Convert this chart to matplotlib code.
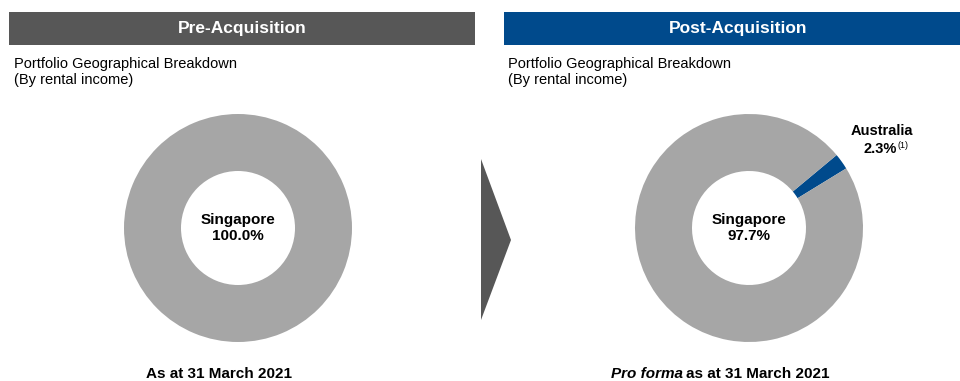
import matplotlib
matplotlib.use("Agg")
import matplotlib.pyplot as plt
from matplotlib.patches import Rectangle, Polygon

plt.rcParams['font.family'] = ['Liberation Sans', 'DejaVu Sans']

# data
headers = ["Pre-Acquisition", "Post-Acquisition"]
subtitle = "Portfolio Geographical Breakdown\n(By rental income)"
pre_labels = ["Singapore"]
pre_values = [100.0]
post_labels = ["Australia", "Singapore"]
post_values = [2.3, 97.7]

GREY = "#a6a6a6"
BLUE = "#004a8c"
DARK = "#575757"

W, H = 960, 381
fig = plt.figure(figsize=(W / 100, H / 100), dpi=100)
bg = fig.add_axes([0, 0, 1, 1])
bg.set_xlim(0, W)
bg.set_ylim(H, 0)
bg.axis("off")

# header bars
bg.add_patch(Rectangle((9, 12), 466, 33, color=DARK, lw=0))
bg.add_patch(Rectangle((504, 12), 456, 33, color=BLUE, lw=0))
bg.text(242, 29, headers[0], color="white", fontsize=12.5, fontweight="bold",
        ha="center", va="center")
bg.text(738, 29, headers[1], color="white", fontsize=12.5, fontweight="bold",
        ha="center", va="center")

bg.text(14, 72, subtitle, fontsize=10.5, ha="left", va="center", linespacing=1.15)
bg.text(508, 72, subtitle, fontsize=10.5, ha="left", va="center", linespacing=1.15)

# arrow
bg.add_patch(Polygon([(481, 159), (511, 240), (481, 320)], closed=True, color=DARK, lw=0))


def donut(cx, cy, r, values, colors, start):
    ax = fig.add_axes([(cx - r) / W, (H - cy - r) / H, 2 * r / W, 2 * r / H])
    ax.pie(values, colors=colors, startangle=start, counterclock=True,
           wedgeprops=dict(width=0.5, linewidth=0))
    ax.set_xlim(-1, 1)
    ax.set_ylim(-1, 1)
    ax.set_aspect("equal")
    ax.axis("off")
    return ax


donut(238, 228, 114, pre_values, [GREY], 90)
donut(749, 228, 114, post_values, [BLUE, GREY], 31.5)

bg.text(238, 228, f"{pre_labels[0]}\n{pre_values[0]:.1f}%", fontsize=11, fontweight="bold",
        ha="center", va="center", linespacing=1.1)
bg.text(749, 228, f"{post_labels[1]}\n{post_values[1]:.1f}%", fontsize=11, fontweight="bold",
        ha="center", va="center", linespacing=1.1)

bg.text(913, 131, post_labels[0], fontsize=10.5, fontweight="bold", ha="right", va="center")
bg.text(897, 149, f"{post_values[0]:.1f}%", fontsize=10.5, fontweight="bold", ha="right", va="center")
bg.text(898, 145, "(1)", fontsize=6.5, ha="left", va="center")

# footers
narrow = ['Liberation Sans Narrow', 'Liberation Sans', 'DejaVu Sans']
bg.text(219, 374, "As at 31 March 2021", fontsize=11, fontweight="bold",
        family=narrow, ha="center", va="center")
bg.text(683, 374, "Pro forma", fontsize=11, fontweight="bold", style="italic",
        family=narrow, ha="right", va="center")
bg.text(686, 374, "as at 31 March 2021", fontsize=11, fontweight="bold",
        family=narrow, ha="left", va="center")

fig.savefig("out.png", dpi=100)
